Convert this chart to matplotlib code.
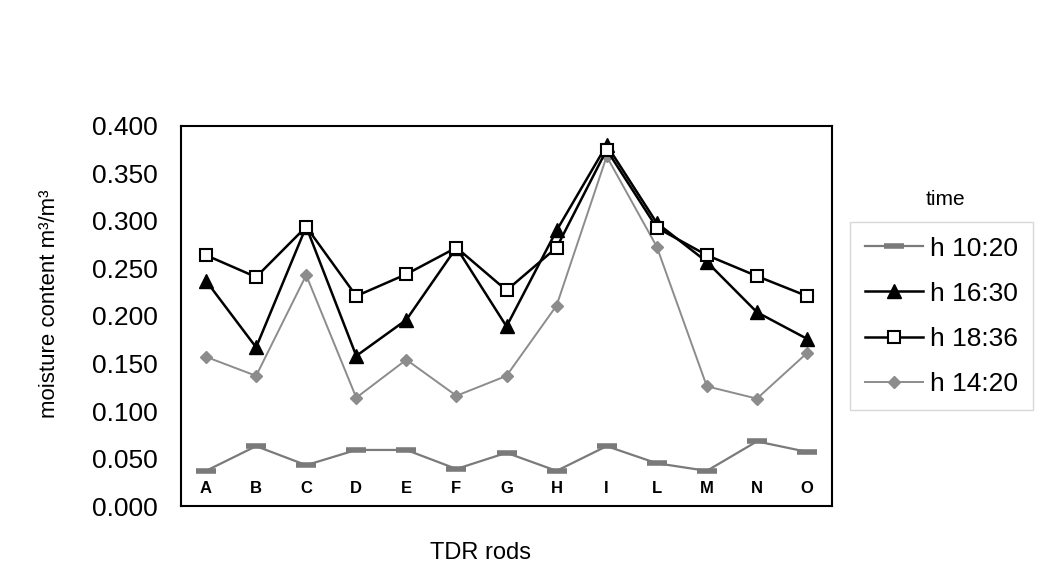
import matplotlib
matplotlib.use('Agg')
import matplotlib.pyplot as plt
import numpy as np

# data
rods = ['A', 'B', 'C', 'D', 'E', 'F', 'G', 'H', 'I', 'L', 'M', 'N', 'O']
h1020 = [0.037, 0.063, 0.043, 0.059, 0.059, 0.039, 0.056, 0.037, 0.063, 0.045, 0.037, 0.068, 0.057]
h1630 = [0.237, 0.167, 0.294, 0.158, 0.196, 0.272, 0.189, 0.290, 0.380, 0.298, 0.257, 0.204, 0.176]
h1836 = [0.264, 0.241, 0.294, 0.221, 0.244, 0.272, 0.227, 0.272, 0.375, 0.293, 0.264, 0.242, 0.221]
h1420 = [0.157, 0.137, 0.243, 0.114, 0.154, 0.116, 0.137, 0.211, 0.368, 0.273, 0.126, 0.113, 0.161]
y_ticks = [0.0, 0.05, 0.1, 0.15, 0.2, 0.25, 0.3, 0.35, 0.4]

plt.rcParams['font.family'] = ['Liberation Sans', 'DejaVu Sans']

fig = plt.figure(figsize=(10.45, 5.66), dpi=100, facecolor='white')
ax = fig.add_axes([0.1732, 0.106, 0.6230, 0.6714])

x = np.arange(len(rods))

ax.plot(x, h1020, color='#7a7a7a', linewidth=1.6, marker='_', markersize=14,
        markeredgewidth=4, label='h 10:20', zorder=3)
ax.plot(x, h1630, color='black', linewidth=1.8, marker='^', markersize=9.5,
        label='h 16:30', zorder=4)
ax.plot(x, h1836, color='black', linewidth=1.8, marker='s', markersize=8.5,
        markerfacecolor='white', markeredgecolor='black', markeredgewidth=1.5,
        label='h 18:36', zorder=5)
ax.plot(x, h1420, color='#8c8c8c', linewidth=1.4, marker='D', markersize=6,
        markerfacecolor='#8c8c8c', markeredgecolor='#8c8c8c',
        label='h 14:20', zorder=3)

ax.set_xlim(-0.5, len(rods) - 0.5)
ax.set_ylim(0, 0.4)
ax.set_yticks(y_ticks)
ax.set_yticklabels(['%.3f' % v for v in y_ticks])
ax.set_xticks([])
ax.tick_params(axis='y', length=0, pad=17, labelsize=19)

# rod names sit inside the plot, just above the bottom axis
for i, r in enumerate(rods):
    ax.text(i, 0.018, r, ha='center', va='center', fontsize=12, fontweight='bold')

for s in ax.spines.values():
    s.set_linewidth(1.5)
    s.set_color('black')

ax.set_ylabel('moisture content m³/m³', fontsize=16)
ax.yaxis.set_label_coords(-0.186, 0.533)
fig.text(0.46, 1 - 553 / 566, 'TDR rods', ha='center', va='center', fontsize=17)

# legend, title placed above the frame like the original
leg = ax.legend(loc='upper left', bbox_to_anchor=(850 / 1045, 1 - 222 / 566),
                bbox_transform=fig.transFigure, fontsize=19, frameon=True,
                fancybox=False, edgecolor='#cfcfcf', handlelength=2.2,
                handletextpad=0.3, labelspacing=0.8, borderpad=0.55,
                borderaxespad=0)
leg.get_frame().set_linewidth(1.0)
fig.text(945 / 1045, 1 - 199 / 566, 'time', ha='center', va='center', fontsize=15)

plt.savefig('out.png', dpi=100, facecolor='white')
